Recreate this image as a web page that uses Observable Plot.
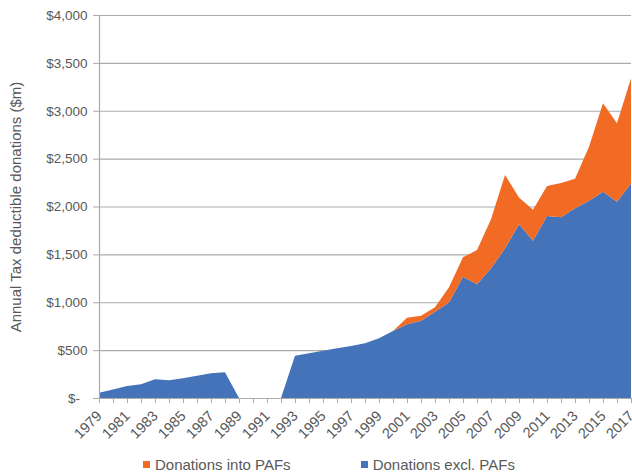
<!DOCTYPE html>
<html>
<head>
<meta charset="utf-8">
<script src="https://cdn.jsdelivr.net/npm/d3@7"></script>
<script src="https://cdn.jsdelivr.net/npm/@observablehq/plot@0.6"></script>
<style>
  body { margin: 0; background: #fff; font-family: "Liberation Sans", Arial, sans-serif; }
  #chart { width: 632px; height: 450px; }
  .legend { display: flex; align-items: center; height: 21px; padding-top: 4px; padding-left: 143px; font-size: 15px; color: #595959; }
  .legend .item { display: flex; align-items: center; }
  .legend .sw { width: 7px; height: 7px; margin-right: 5px; display: inline-block; }
</style>
</head>
<body>
<div id="chart"></div>
<script>
const years = d3.range(1979, 2018);
const exclPAFs = [55, 90, 125, 143, 195, 185, 205, 233, 258, 268,
  0, 0, 0, 0, 442, 467, 494, 519, 543, 571,
  623, 700, 770, 808, 902, 998, 1267, 1187, 1354, 1563,
  1814, 1643, 1901, 1887, 1981, 2061, 2155, 2050, 2240];
const intoPAFs = [0, 0, 0, 0, 0, 0, 0, 0, 0, 0,
  0, 0, 0, 0, 0, 0, 0, 0, 0, 0,
  0, 0, 68, 52, 45, 158, 202, 359, 512, 766,
  281, 322, 313, 358, 309, 564, 923, 819, 1099];
const seriesNames = ["Donations excl. PAFs", "Donations into PAFs"];
const seriesColors = ["#4473B9", "#F26B25"];
const yTicks = d3.range(0, 4001, 500);
const xLabelYears = years.filter(y => y % 2 === 1);

const data = years.flatMap((y, i) => [
  {year: y, series: seriesNames[0], value: exclPAFs[i]},
  {year: y, series: seriesNames[1], value: intoPAFs[i]}
]);

const fmt = d3.format(",");
const plot = Plot.plot({
  width: 632,
  height: 450,
  marginLeft: 99,
  marginRight: 1,
  marginTop: 15,
  marginBottom: 52,
  style: {fontSize: "13.5px", fontFamily: "Liberation Sans, Arial, sans-serif", color: "#595959", background: "#fff", overflow: "visible"},
  x: {domain: [1979, 2017]},
  y: {domain: [0, 4000]},
  color: {domain: seriesNames, range: seriesColors},
  marks: [
    Plot.gridY(yTicks, {stroke: "#ababab", strokeOpacity: 1, strokeWidth: 1.2}),
    Plot.areaY(data, {x: "year", y: "value", fill: "series", order: seriesNames}),
    Plot.ruleY([0], {stroke: "#ababab", strokeWidth: 1.2}),
    Plot.ruleX([1979], {stroke: "#ababab", strokeWidth: 1.2}),
    Plot.axisY({ticks: yTicks, tickSize: 6, tickPadding: 6, stroke: "#ababab",
      tickFormat: d => d === 0 ? "$-\u00a0\u00a0" : "$" + fmt(d),
      label: "Annual Tax deductible donations ($m)", labelAnchor: "center", labelOffset: 89, labelArrow: false}),
    Plot.axisX({ticks: years, tickSize: 5, stroke: "#ababab", tickFormat: () => "", label: null}),
    Plot.axisX({ticks: xLabelYears, tickSize: 0, tickPadding: 15, tickRotate: -45, fontSize: 14.5, tickFormat: d => String(d), label: null})
  ]
});
d3.select(plot).selectAll('[aria-label="y-axis label"] text').style("font-size", "15px");
document.getElementById("chart").appendChild(plot);

const legend = d3.select("body").append("div").attr("class", "legend");
[1, 0].forEach((k, j) => {
  const it = legend.append("div").attr("class", "item").style("margin-left", j === 1 ? "70px" : "0px");
  it.append("span").attr("class", "sw").style("background", seriesColors[k]);
  it.append("span").text(seriesNames[k]);
});
</script>
</body>
</html>
